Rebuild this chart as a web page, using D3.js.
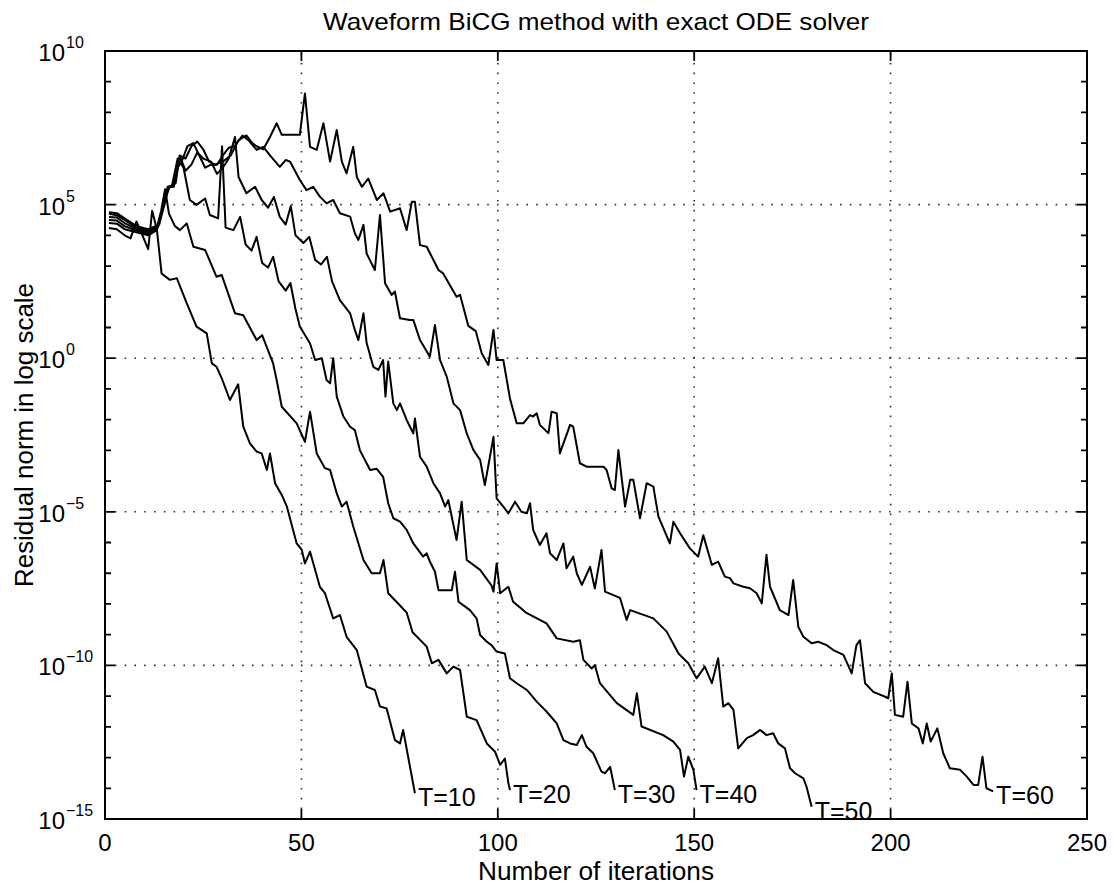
<!DOCTYPE html>
<html>
<head>
<meta charset="utf-8">
<title>Waveform BiCG method with exact ODE solver</title>
<script src="https://cdn.jsdelivr.net/npm/d3@7/dist/d3.min.js"></script>
<style>
  body { margin: 0; background: #fff; }
  text { font-family: "Liberation Sans", Arial, Helvetica, sans-serif; fill: #000; }
</style>
</head>
<body>
<div id="chart"></div>
<script>
// each point: [iteration, log10 of residual norm]
var t10 = [[1,4.24],[3,4.2],[5,4.0],[6.5,3.9],[8,4.45],[9.2,4.1],[11,3.55],[12,4.8],[13.2,4.2],[14.4,2.76],[16.5,2.55],[18.3,2.6],[20.8,1.79],[23.3,1.03],[25.9,0.81],[27.2,-0.17],[28.4,-0.28],[29.7,-0.65],[31.8,-1.36],[33.9,-0.85],[35.2,-2.23],[36.9,-2.77],[38.6,-3.04],[39.9,-3.1],[41.2,-3.64],[42,-3.1],[43.3,-4.07],[45,-4.45],[46.3,-4.83],[48.8,-6.03],[50.1,-6.24],[50.9,-6.68],[52.2,-6.3],[54.7,-7.44],[56,-7.65],[58.1,-8.47],[59.8,-8.36],[61.5,-9.07],[64.1,-9.5],[66.6,-10.69],[68.7,-10.8],[70,-11.34],[71.7,-11.4],[73.8,-12.43],[75.1,-12.54],[75.9,-12.1],[78.9,-14.16]];

var t20 = [[1,4.4],[3,4.38],[5,4.2],[8,4.1],[11,4.0],[13,4.15],[14.3,4.8],[15.3,5.5],[16.3,4.7],[17.8,4.3],[19.1,4.17],[20.8,4.39],[22.5,3.63],[25.5,3.52],[28.4,2.65],[29.7,2.71],[33.1,1.46],[35.2,1.4],[38.6,0.59],[40,0.75],[42.8,-0.17],[43.7,-0.71],[45,-1.58],[48.8,-2.12],[50.9,-2.72],[52.2,-1.74],[53.9,-3.1],[56,-3.58],[57.3,-3.64],[59,-4.4],[60.3,-4.83],[61.5,-4.67],[63.2,-5.48],[65.8,-6.57],[67.9,-7.0],[70,-7.0],[70.9,-6.57],[72.1,-7.65],[75.1,-8.05],[76.8,-8.28],[78.3,-8.92],[81.9,-9.39],[83.2,-9.93],[84.9,-9.82],[87,-10.26],[88.7,-10.04],[90.4,-10.15],[92.1,-11.67],[94.6,-11.78],[97.2,-12.54],[99.3,-12.81],[100.6,-13.24],[101.8,-13.03],[102.7,-13.84],[103.1,-14.06]];

var t30 = [[1,4.5],[3,4.48],[5,4.3],[8,4.15],[11,4.05],[13.2,4.2],[15,5.0],[16,5.58],[17,5.58],[18.5,6.5],[20,6.2],[21.6,5.15],[23.3,4.99],[25.5,5.2],[26.7,4.66],[28.8,4.55],[29.8,6.9],[30.7,4.25],[32.7,4.17],[34.4,4.6],[35.8,3.7],[37.3,3.5],[38.6,3.95],[40,3.1],[41.5,2.95],[42.8,3.3],[44.2,2.5],[46,2.2],[47.2,2.45],[48.5,1.6],[49.6,1.03],[52.2,0.48],[53.5,-0.06],[55.2,0.0],[56.4,-0.71],[57.3,-0.82],[58.1,0.0],[59,-1.25],[60.7,-1.9],[62.4,-2.23],[63.6,-2.34],[64.9,-3.0],[67.5,-3.64],[69.2,-3.6],[70.8,-3.86],[72.1,-4.72],[73.4,-5.21],[75.1,-5.32],[76.8,-5.59],[78.5,-6.03],[81,-6.46],[81.9,-6.35],[82.7,-6.62],[84,-6.95],[84.9,-7.55],[88.3,-7.55],[89.1,-6.95],[90,-7.93],[92.9,-8.2],[94.6,-8.47],[95.5,-9.01],[97.2,-9.23],[98.4,-9.34],[99.7,-9.55],[101.8,-9.61],[103.1,-10.42],[104.8,-10.58],[107.4,-10.8],[109.9,-11.18],[112.4,-11.5],[115,-11.89],[116.7,-12.43],[118.4,-12.54],[120.1,-12.59],[121.4,-12.27],[122.6,-12.65],[124.3,-12.86],[126.4,-13.46],[127.3,-13.51],[128.6,-13.3],[129.8,-14.06]];

var t40 = [[1,4.6],[3,4.58],[5,4.4],[8,4.2],[11,4.1],[13.4,4.25],[15.5,5.3],[16.5,5.58],[17.5,5.58],[19.1,6.56],[20.5,6.1],[22,6.3],[23.5,6.7],[25,6.5],[27,6.4],[28.5,6.0],[30,6.2],[31.5,6.5],[33.1,7.2],[34,5.9],[36,5.37],[38.2,5.58],[39.9,5.15],[41.5,4.9],[43,5.25],[44.5,4.6],[46,4.35],[47.3,4.95],[48.5,4.0],[50.5,3.75],[52,3.95],[53.5,3.2],[55,3.05],[56.5,3.3],[57.8,2.5],[59.8,1.89],[62.4,1.46],[63.6,0.92],[64.5,0.59],[65.8,1.46],[66.6,0.5],[68.3,-0.28],[69.6,-0.38],[70.8,-0.06],[71.4,-1.25],[72.1,-0.11],[73.4,-1.47],[74.3,-1.69],[75.1,-1.47],[76.8,-2.01],[78.5,-2.45],[78.9,-1.96],[80.2,-3.21],[81.9,-3.53],[83.6,-4.07],[85.3,-4.4],[86.6,-4.83],[87.4,-4.62],[88.5,-5.3],[89.5,-5.92],[90.8,-4.67],[92.1,-6.57],[95.5,-6.89],[98.4,-7.4],[98.9,-7.6],[99.7,-6.68],[100.6,-7.65],[102.7,-7.44],[103.9,-7.93],[107.4,-8.3],[112.4,-8.63],[115,-9.12],[119.2,-9.23],[120.9,-9.18],[121.8,-9.82],[123.9,-10.1],[124.7,-9.99],[126,-10.58],[130.3,-11.23],[134.5,-11.61],[135.4,-10.91],[136.6,-11.99],[142.1,-12.27],[144.7,-12.48],[146.4,-12.75],[147.4,-13.62],[148.5,-12.97],[149.8,-13.4],[150.6,-14.06]];

var t50 = [[1,4.7],[3,4.65],[5,4.5],[8,4.25],[11,4.15],[13.6,4.3],[16,5.58],[17.5,5.6],[18.5,6.2],[19.5,6.4],[21,6.9],[22.5,7.0],[24,6.6],[25.5,6.2],[27,6.3],[28.5,6.3],[30,6.6],[31.5,6.85],[33,6.9],[35,7.25],[36.5,7.1],[38.6,6.78],[40.3,6.88],[42,6.6],[44.5,6.23],[46,6.45],[47.1,6.4],[49.6,5.8],[51.3,5.47],[53,5.58],[54.7,5.26],[56.4,5.04],[58.1,5.15],[59.8,4.72],[62.4,4.61],[63.6,4.07],[64.5,3.85],[65.8,4.34],[66.6,3.41],[68.7,2.87],[70,4.66],[71.3,2.44],[73,2.06],[73.8,2.17],[75.1,1.3],[77.6,1.24],[78.5,1.24],[80.2,0.59],[82.7,0.05],[84,1.08],[85.3,-0.06],[87,-0.6],[88.7,-1.47],[90.4,-1.69],[92.1,-2.45],[93.8,-2.99],[95.5,-3.31],[96.7,-4.13],[98.9,-2.56],[99.7,-4.56],[101.4,-4.83],[102.7,-5.05],[104.4,-4.67],[106,-5.0],[107.4,-5.05],[108.2,-4.72],[109,-5.59],[110.7,-6.08],[112.4,-5.7],[113.3,-6.35],[115,-6.57],[116.7,-6.03],[117.5,-6.84],[119.2,-6.46],[120.1,-7.0],[121.4,-7.38],[123.5,-6.79],[124.7,-7.5],[126.4,-6.24],[127.3,-7.6],[131.1,-7.8],[132.8,-8.52],[133.7,-8.2],[139.6,-8.47],[143,-8.9],[146,-9.61],[148.5,-9.93],[150.6,-10.42],[152.7,-10.04],[154.5,-10.58],[156.1,-9.77],[157.4,-11.34],[158.7,-11.23],[160,-11.45],[161.2,-12.7],[163.4,-12.37],[165,-12.27],[166.8,-12.1],[168.4,-12.27],[170.1,-12.21],[171.4,-12.54],[173.1,-12.7],[174.4,-13.35],[175.7,-13.51],[177.8,-13.68],[178.6,-13.95],[179.9,-14.6]];

var t60 = [[1,4.75],[3,4.72],[5,4.55],[8,4.3],[11,4.2],[13.8,4.35],[16.3,5.58],[18,5.7],[19,6.6],[20.5,6.5],[22,6.9],[23.5,7.05],[25,6.8],[26.5,6.4],[28,6.3],[30,6.4],[32,6.6],[34,7.1],[36,7.25],[37.5,7.0],[38.6,6.9],[40.3,6.8],[42,7.2],[43.7,7.65],[45,7.27],[49.6,7.27],[50.9,8.62],[52.2,6.88],[53.9,6.78],[55.6,7.65],[57.3,6.4],[59,7.43],[60.3,6.4],[61.5,6.02],[63.2,6.88],[64.1,5.9],[65.4,5.58],[67,5.85],[69.2,5.15],[70.9,5.37],[72.6,4.77],[75.1,4.88],[76.8,4.17],[78.1,5.09],[78.9,5.09],[80.2,3.68],[81.9,3.63],[84.9,2.87],[86.1,2.76],[89.5,2.0],[90.4,2.06],[92.5,1.05],[94.4,0.88],[95.9,0.16],[97.6,-0.22],[98.9,0.92],[99.7,-0.06],[101.4,-0.06],[103.1,-1.31],[104.8,-2.12],[106.5,-2.12],[108.2,-1.85],[109,-1.9],[109.9,-1.79],[110.7,-2.17],[112.9,-2.44],[113.7,-1.74],[115,-1.79],[115.8,-3.1],[118.4,-2.17],[119.2,-2.23],[120.9,-3.42],[122.6,-3.53],[126.9,-3.53],[127.7,-3.64],[129,-4.24],[129.8,-4.29],[130.7,-2.99],[132.4,-4.83],[133.7,-3.96],[134.5,-3.96],[136.2,-5.21],[137.9,-4.07],[139.6,-4.18],[140.9,-5.16],[143.8,-6.03],[144.7,-5.32],[146.4,-5.7],[148.9,-6.19],[151,-6.46],[152.3,-5.76],[154.5,-6.73],[156.1,-6.62],[157.8,-7.11],[159.1,-7.16],[160,-7.33],[162.5,-7.44],[164.2,-7.49],[165.9,-7.65],[167.2,-7.98],[168.4,-6.4],[169.3,-7.44],[171.8,-8.2],[174,-8.36],[175.2,-7.22],[176.5,-8.74],[177.8,-9.07],[179.9,-9.28],[181.6,-9.23],[183.7,-9.34],[185.4,-9.5],[188,-9.66],[190.1,-10.26],[191.3,-9.34],[192.2,-9.18],[193.5,-10.58],[195.6,-10.86],[198.6,-11.02],[199.4,-11.07],[200.3,-10.26],[201.1,-11.61],[203.2,-11.67],[204.3,-10.53],[205.4,-11.89],[207.1,-12.05],[208.2,-12.54],[209.2,-11.89],[210.2,-12.48],[211.9,-12.05],[213.4,-12.86],[215.1,-13.35],[217.7,-13.4],[219.4,-13.62],[221.1,-13.89],[222.3,-13.89],[223.4,-12.97],[224.4,-14.0],[226.1,-14.1]];

var seriesList = [t10, t20, t30, t40, t50, t60];
var seriesNames = ["T=10", "T=20", "T=30", "T=40", "T=50", "T=60"];

var xTicks = [0, 50, 100, 150, 200, 250];
var xGrid = [50, 100, 150, 200];
var yLabelExps = [10, 5, 0, -5, -10, -15];
var yGridExps = [5, 0, -5, -10];
var yMinorExps = d3.range(-14, 10);

var W = 1114, H = 886;
var margin = {top: 51, right: 27, bottom: 67, left: 105};

var svg = d3.select("#chart").append("svg")
    .attr("width", W)
    .attr("height", H);

svg.append("rect").attr("width", W).attr("height", H).attr("fill", "#fff");

var x = d3.scaleLinear().domain([0, 250]).range([margin.left, W - margin.right]);
var y = d3.scaleLog().domain([1e-15, 1e10]).range([H - margin.bottom, margin.top]);

var x0 = x.range()[0], x1 = x.range()[1];
var yb = y.range()[0], yt = y.range()[1];

// dotted grid
var grid = svg.append("g")
    .attr("stroke", "#333")
    .attr("stroke-width", 1.6)
    .attr("stroke-dasharray", "1.6,8.2");

grid.selectAll(".gx").data(xGrid).enter().append("line")
    .attr("x1", d => x(d)).attr("x2", d => x(d))
    .attr("y1", yb).attr("y2", yt);

grid.selectAll(".gy").data(yGridExps).enter().append("line")
    .attr("x1", x0).attr("x2", x1)
    .attr("y1", d => y(Math.pow(10, d))).attr("y2", d => y(Math.pow(10, d)));

// curves
var line = d3.line()
    .x(d => x(d[0]))
    .y(d => y(Math.pow(10, d[1])));

svg.append("g").selectAll("path")
    .data(seriesList)
    .enter().append("path")
      .attr("d", line)
      .attr("fill", "none")
      .attr("stroke", "#000")
      .attr("stroke-width", 2)
      .attr("stroke-linejoin", "round");

// curve labels next to the last point
svg.append("g").selectAll("text")
    .data(seriesList)
    .enter().append("text")
      .attr("x", d => x(d[d.length - 1][0]) + 3)
      .attr("y", d => y(Math.pow(10, d[d.length - 1][1])) + 13)
      .attr("font-size", 25)
      .text((d, i) => seriesNames[i]);

// box
svg.append("rect")
    .attr("x", x0).attr("y", yt)
    .attr("width", x1 - x0).attr("height", yb - yt)
    .attr("fill", "none")
    .attr("stroke", "#000")
    .attr("stroke-width", 2);

// ticks (inward, both sides)
var ticks = svg.append("g").attr("stroke", "#000").attr("stroke-width", 1.8);

ticks.selectAll(".xt").data(xGrid).enter().append("path")
    .attr("d", d => "M" + x(d) + "," + yb + "v-10M" + x(d) + "," + yt + "v10");

ticks.selectAll(".yt").data(yMinorExps).enter().append("path")
    .attr("d", function(d) {
      var len = (d % 5 === 0) ? 10 : 6;
      var yy = y(Math.pow(10, d));
      return "M" + x0 + "," + yy + "h" + len + "M" + x1 + "," + yy + "h-" + len;
    });

// x tick labels
svg.append("g").selectAll("text")
    .data(xTicks)
    .enter().append("text")
      .attr("x", d => x(d))
      .attr("y", yb + 32)
      .attr("text-anchor", "middle")
      .attr("font-size", 24)
      .text(d => d);

// y tick labels: 10 with superscript exponent
var yl = svg.append("g").selectAll("g")
    .data(yLabelExps)
    .enter().append("g");

yl.append("text")
    .attr("x", 65)
    .attr("y", d => y(Math.pow(10, d)) + 10)
    .attr("text-anchor", "end")
    .attr("font-size", 24)
    .text("10");

yl.append("text")
    .attr("x", 66)
    .attr("y", d => y(Math.pow(10, d)) - 3)
    .attr("font-size", 16)
    .text(d => d < 0 ? "\u2212" + (-d) : d);

// titles
svg.append("text")
    .attr("x", (x0 + x1) / 2)
    .attr("y", 30)
    .attr("text-anchor", "middle")
    .attr("font-size", 24)
    .attr("textLength", 546)
    .attr("lengthAdjust", "spacingAndGlyphs")
    .text("Waveform BiCG method with exact ODE solver");

svg.append("text")
    .attr("x", (x0 + x1) / 2)
    .attr("y", 880)
    .attr("text-anchor", "middle")
    .attr("font-size", 25)
    .attr("textLength", 236)
    .attr("lengthAdjust", "spacingAndGlyphs")
    .text("Number of iterations");

svg.append("text")
    .attr("transform", "translate(33," + ((yt + yb) / 2) + ") rotate(-90)")
    .attr("text-anchor", "middle")
    .attr("font-size", 25)
    .attr("textLength", 304)
    .attr("lengthAdjust", "spacingAndGlyphs")
    .text("Residual norm in log scale");
</script>
</body>
</html>
